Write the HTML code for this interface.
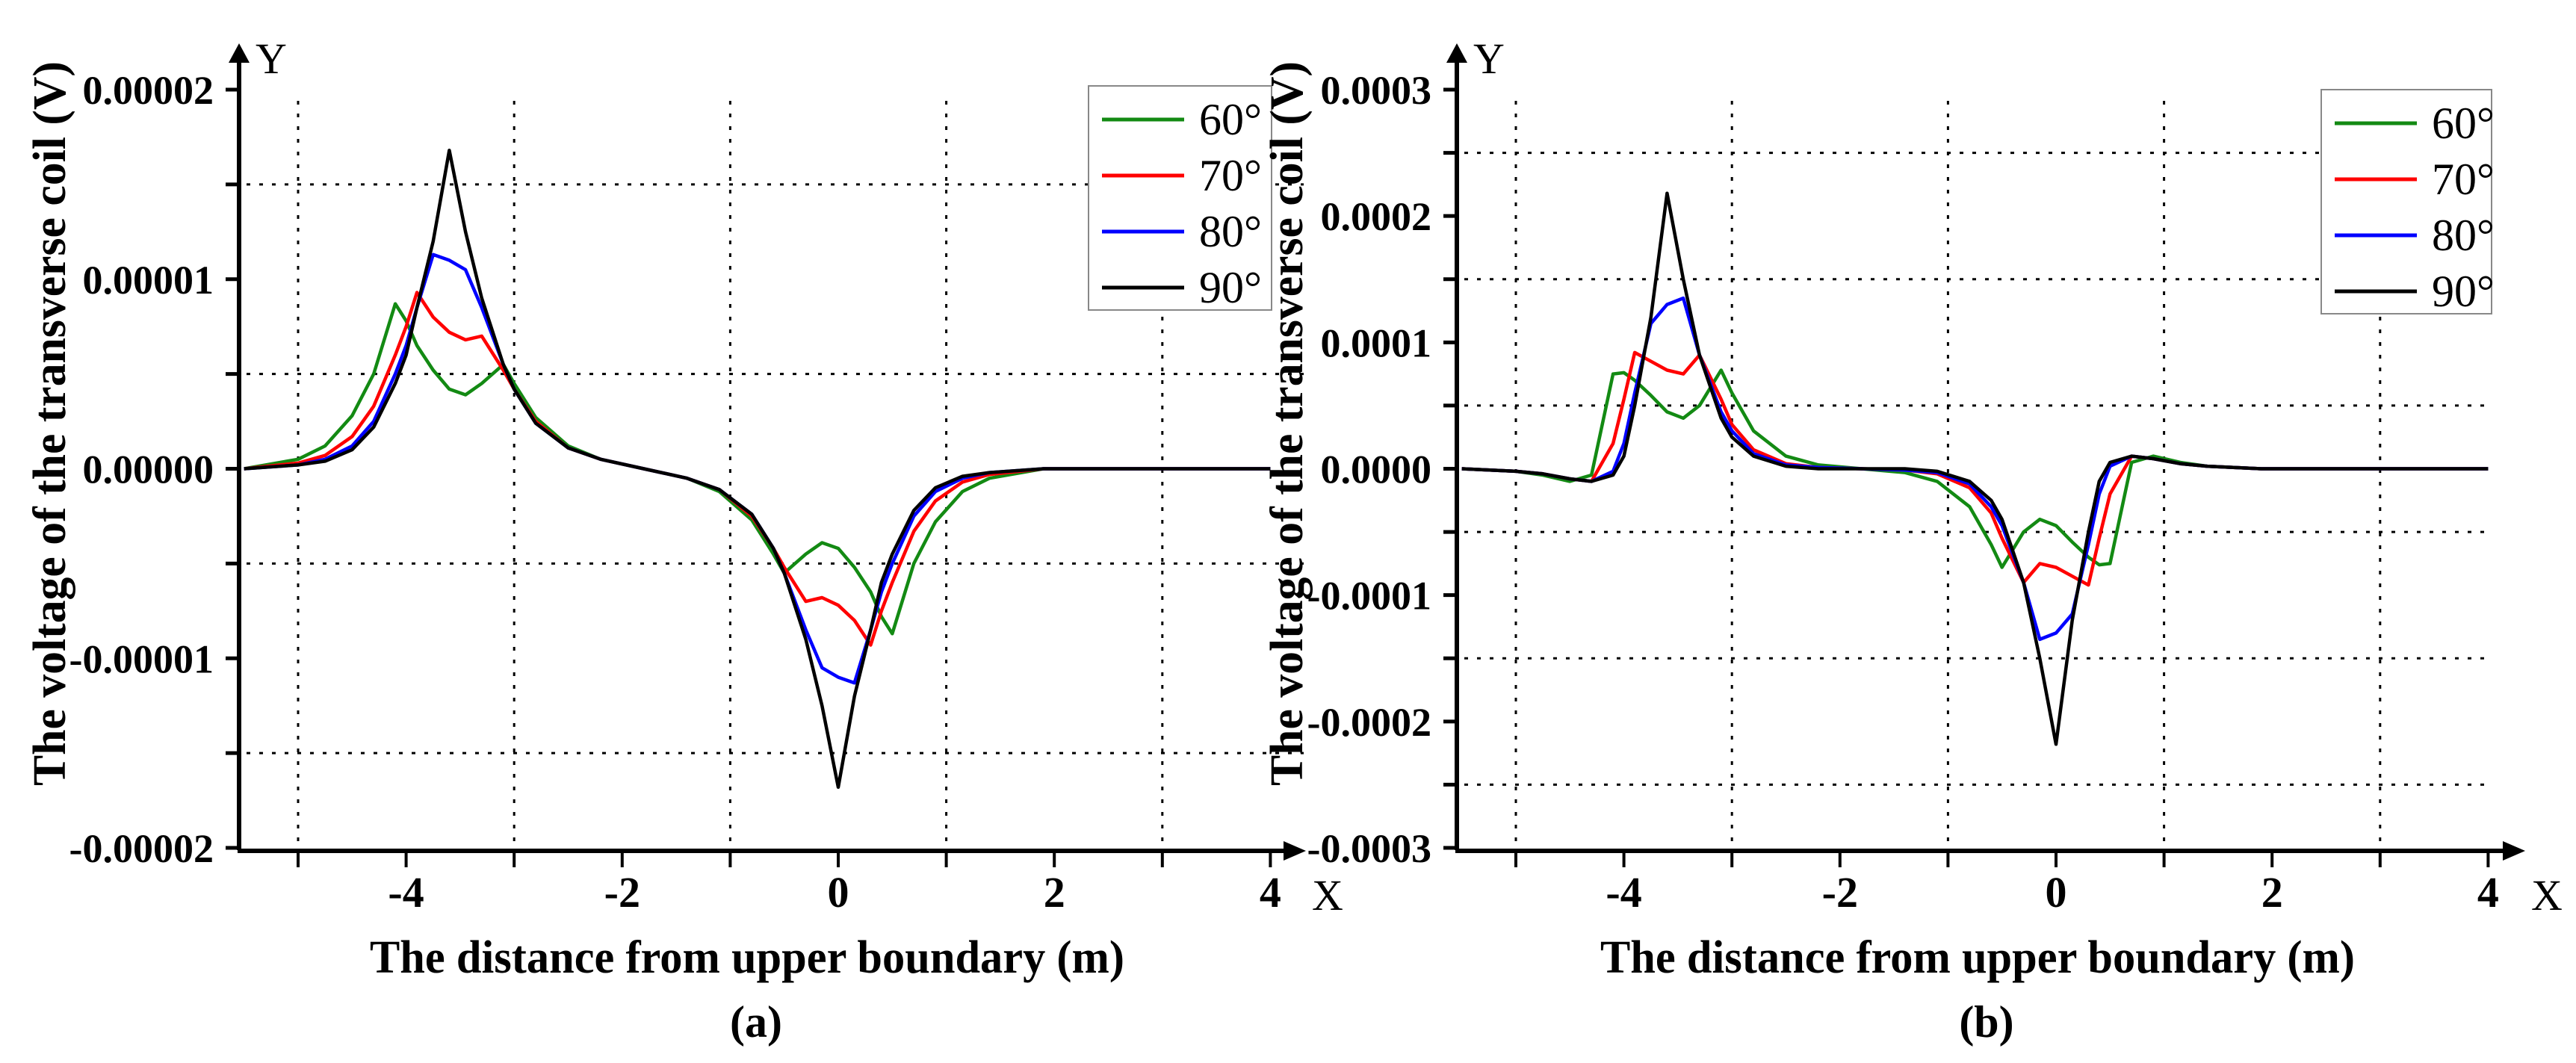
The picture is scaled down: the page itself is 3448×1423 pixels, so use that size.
<!DOCTYPE html>
<html><head><meta charset="utf-8"><style>
html,body{margin:0;padding:0;background:#fff;}
svg{display:block;font-family:"Liberation Serif",serif;}
</style></head><body>
<svg id="fig" width="3448" height="1423" viewBox="0 0 3448 1423" xmlns="http://www.w3.org/2000/svg">
<rect width="3448" height="1423" fill="#fff"/>
</svg>
<script>
// shared x grid (m)
const xGrid = [-5.5,-5,-4.75,-4.5,-4.3,-4.1,-4,-3.9,-3.75,-3.6,-3.45,-3.3,-3.1,-3,-2.8,-2.5,-2.2,-1.8,
  -1.4,-1.1,-0.8,-0.6,-0.5,-0.3,-0.15,0,0.15,0.3,0.4,0.5,0.7,0.9,1.15,1.4,1.9,2.5,4];
// panel (a) values in 1e-5 V
const a60 = [0,0.05,0.12,0.28,0.5,0.87,0.78,0.65,0.52,0.42,0.39,0.45,0.55,0.45,0.27,0.12,0.05,0,
  -0.05,-0.12,-0.27,-0.45,-0.55,-0.45,-0.39,-0.42,-0.52,-0.65,-0.78,-0.87,-0.5,-0.28,-0.12,-0.05,0,0,0];
const a70 = [0,0.03,0.07,0.17,0.33,0.6,0.75,0.93,0.8,0.72,0.68,0.7,0.52,0.42,0.25,0.11,0.05,0,
  -0.05,-0.11,-0.25,-0.42,-0.52,-0.7,-0.68,-0.72,-0.8,-0.93,-0.75,-0.6,-0.33,-0.17,-0.07,-0.03,0,0,0];
const a80 = [0,0.02,0.05,0.12,0.25,0.5,0.65,0.85,1.13,1.1,1.05,0.85,0.55,0.42,0.24,0.11,0.05,0,
  -0.05,-0.11,-0.24,-0.42,-0.55,-0.85,-1.05,-1.1,-1.13,-0.85,-0.65,-0.5,-0.25,-0.12,-0.05,-0.02,0,0,0];
const a90 = [0,0.02,0.04,0.1,0.22,0.45,0.6,0.85,1.2,1.68,1.25,0.9,0.55,0.42,0.24,0.11,0.05,0,
  -0.05,-0.11,-0.24,-0.42,-0.55,-0.9,-1.25,-1.68,-1.2,-0.85,-0.6,-0.45,-0.22,-0.1,-0.04,-0.02,0,0,0];
// panel (b) values in 1e-4 V
const b60 = [0,-0.02,-0.05,-0.1,-0.05,0.75,0.76,0.7,0.58,0.45,0.4,0.5,0.78,0.6,0.3,0.1,0.03,0,
  -0.03,-0.1,-0.3,-0.6,-0.78,-0.5,-0.4,-0.45,-0.58,-0.7,-0.76,-0.75,0.05,0.1,0.05,0.02,0,0,0];
const b70 = [0,-0.02,-0.04,-0.08,-0.1,0.2,0.55,0.92,0.85,0.78,0.75,0.9,0.55,0.35,0.15,0.04,0.01,0,
  -0.01,-0.04,-0.15,-0.35,-0.55,-0.9,-0.75,-0.78,-0.85,-0.92,-0.55,-0.2,0.1,0.08,0.04,0.02,0,0,0];
const b80 = [0,-0.02,-0.04,-0.08,-0.1,-0.02,0.2,0.6,1.15,1.3,1.35,0.9,0.45,0.3,0.12,0.03,0.01,0,
  -0.01,-0.03,-0.12,-0.3,-0.45,-0.9,-1.35,-1.3,-1.15,-0.6,-0.2,0.02,0.1,0.08,0.04,0.02,0,0,0];
const b90 = [0,-0.02,-0.04,-0.08,-0.1,-0.05,0.1,0.5,1.2,2.18,1.5,0.9,0.4,0.25,0.1,0.02,0,0,
  0,-0.02,-0.1,-0.25,-0.4,-0.9,-1.5,-2.18,-1.2,-0.5,-0.1,0.05,0.1,0.08,0.04,0.02,0,0,0];
const legendLabels = ["60°","70°","80°","90°"];
const colors = ["#138a13","#ff0000","#0000ff","#000000"];
const xTickLabels = ["-4","-2","0","2","4"];
const xTickValues = [-4,-2,0,2,4];
const aTickLabels = ["0.00002","0.00001","0.00000","-0.00001","-0.00002"];
const aTickValues = [2,1,0,-1,-2];
const bTickLabels = ["0.0003","0.0002","0.0001","0.0000","-0.0001","-0.0002","-0.0003"];
const bTickValues = [3,2,1,0,-1,-2,-3];

const NS="http://www.w3.org/2000/svg";
const svg=document.getElementById('fig');
function mk(tag,attrs,parent){const e=document.createElementNS(NS,tag);for(const k in attrs)e.setAttribute(k,attrs[k]);(parent||svg).appendChild(e);return e;}

function panel(ox, ymax, minorStep, tickVals, tickLabels, series, label, leg, gridEnd, axEnd, xlabelCx){
  const g=mk('g',{});
  
  
  const top=120, bot=1135, y0=(top+bot)/2;
  const X=v=>ox+802+v*144.6;
  const Y=v=>y0-v*(bot-top)/(2*ymax);
  const gridV=[-5,-3,-1,1,3];
  for(const v of gridV){const l=mk('line',{x1:X(v),x2:X(v),y1:top+15,y2:bot,stroke:'#000','stroke-width':3,'stroke-dasharray':'5 12'},g);
    }
  for(let v=-ymax+minorStep; v<ymax; v+=2*minorStep){ if(Math.abs(v)<1e-9) continue;
    const l=mk('line',{x1:ox+10,x2:gridEnd,y1:Y(v),y2:Y(v),stroke:'#000','stroke-width':3,'stroke-dasharray':'5 12'},g);
    }
  const ax=mk('path',{d:`M${ox} ${bot+3}V72 M${ox-2} ${bot+4}H${axEnd-20}`,stroke:'#000','stroke-width':6,fill:'none'},g);
  
  const ar=mk('path',{d:`M${ox} 58 L${ox-14} 84 L${ox+14} 84Z M${axEnd} ${bot+4} L${axEnd-30} ${bot-9} L${axEnd-30} ${bot+17}Z`,fill:'#000'},g);
  
  const yl=mk('text',{x:ox+22,y:98,'font-size':58},g);yl.textContent='Y';
  
  const xl=mk('text',{x:axEnd+8,y:1218,'font-size':58},g);xl.textContent='X';
  
  for(let v=-ymax; v<=ymax+1e-9; v+=minorStep){
    const t=mk('line',{x1:ox-18,x2:ox,y1:Y(v),y2:Y(v),stroke:'#000','stroke-width':5},g);
    }
  tickVals.forEach((v,i)=>{const t=mk('text',{x:ox-34,y:Y(v)+19,'font-size':54,'font-weight':'bold','text-anchor':'end'},g);
    t.textContent=tickLabels[i];});
  for(let v=-5; v<=4; v++){
    const t=mk('line',{x1:X(v),x2:X(v),y1:bot+4,y2:bot+26,stroke:'#000','stroke-width':4},g);
    }
  xTickValues.forEach((v,i)=>{const t=mk('text',{x:X(v),y:1214,'font-size':58,'font-weight':'bold','text-anchor':'middle'},g);
    t.textContent=xTickLabels[i];});
  series.forEach((vals,si)=>{
    const pts=xGrid.map((x,i)=>X(x).toFixed(1)+','+Y(vals[i]).toFixed(1)).join(' ');
    const p=mk('polyline',{points:pts,fill:'none',stroke:colors[si],'stroke-width':4.5,'stroke-linejoin':'round'},g);
    
  });
  const lg=mk('g',{},g);
  
  mk('rect',{x:leg.x,y:leg.y,width:leg.w,height:leg.h,fill:'#fff',stroke:'#888','stroke-width':2},lg);
  legendLabels.forEach((s,i)=>{
    const yy=leg.y+45+i*75;
    const l=mk('line',{x1:leg.x+18,x2:leg.x+128,y1:yy,y2:yy,stroke:colors[i],'stroke-width':5},lg);
    
    const t=mk('text',{x:leg.x+148,y:yy+20,'font-size':60},lg);t.textContent=s;
    
  });
  const xt=mk('text',{x:xlabelCx,y:1302,'font-size':62,'font-weight':'bold','text-anchor':'middle',textLength:1010,lengthAdjust:'spacingAndGlyphs'},g);
  xt.textContent='The distance from upper boundary (m)';
  const pl=mk('text',{x:xlabelCx+12,y:1388,'font-size':60,'font-weight':'bold','text-anchor':'middle'},g);
  pl.textContent=label;
}
function ylabel(cx){
  const t=mk('text',{x:0,y:0,'font-size':62,'font-weight':'bold','text-anchor':'middle',textLength:970,lengthAdjust:'spacingAndGlyphs',
    transform:`translate(${cx+21},567) rotate(-90)`});
  t.textContent='The voltage of the transverse coil (V)';
  
}
panel(320,2,0.5,aTickValues,aTickLabels,[a60,a70,a80,a90],'(a)',{x:1457,y:115,w:245,h:300},1745,1748,1000);
ylabel(66);
panel(1950,3,0.5,bTickValues,bTickLabels,[b60,b70,b80,b90],'(b)',{x:3107,y:120,w:228,h:300},3335,3380,2647);
ylabel(1722);
</script>
</body></html>
